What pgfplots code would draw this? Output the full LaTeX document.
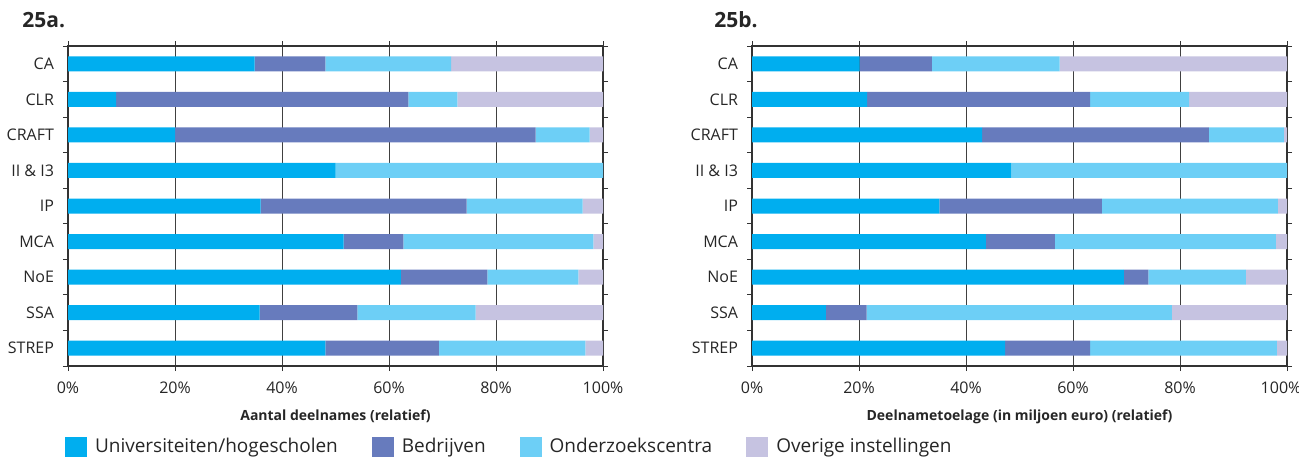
\documentclass[border=0pt]{standalone}
\usepackage{fontspec}
\setmainfont{Open Sans}
\usepackage{pgfplots}
\pgfplotsset{compat=1.18}
\usepackage{pgfplotstable}

\definecolor{cU}{HTML}{00AEEF}
\definecolor{cB}{HTML}{677BBD}
\definecolor{cO}{HTML}{6DCFF6}
\definecolor{cV}{HTML}{C6C3E1}

\pgfplotstableread{
y U B O V
1 34.9 13.2 23.5 28.4
2 9.0 54.6 9.2 27.2
3 20.0 67.4 10.1 2.5
4 50.0 0 50.0 0
5 36.0 38.5 21.7 3.8
6 51.5 11.2 35.5 1.8
7 62.2 16.2 17.0 4.6
8 35.8 18.3 22.1 23.8
9 48.1 21.2 27.4 3.3
}\dataA

\pgfplotstableread{
y U B O V
1 20.1 13.5 23.9 42.5
2 21.5 41.7 18.5 18.3
3 43.0 42.4 14.0 0.6
4 48.5 0 51.5 0
5 35.0 30.4 32.9 1.7
6 43.7 12.9 41.3 2.1
7 69.5 4.6 18.2 7.7
8 13.8 7.6 57.1 21.5
9 47.3 15.9 34.9 1.9
}\dataB

\pgfplotsset{
  mybar/.style={
    scale only axis, width=267.5pt, height=160pt,
    xbar stacked, bar width=7.5pt,
    xmin=0, xmax=100, ymin=0.5, ymax=9.5, y dir=reverse,
    ytick={1,...,9},
    yticklabels={CA,CLR,CRAFT,II \& I3,IP,MCA,NoE,SSA,STREP},
    minor ytick={0.5,1.5,...,9.5},
    xtick={0,20,...,100},
    xmajorgrids,
    major grid style={black!75, line width=0.5pt},
    axis line style={black!80, line width=0.7pt},
    tick align=outside,
    major tick length=2.5pt, minor tick length=2.5pt,
    major y tick style={draw=none},
    tick style={black!80, line width=0.5pt},
    ticklabel style={font=\fontsize{8}{9}\selectfont, text=black!85},
    xticklabel style={yshift=-2pt},
    yticklabel style={xshift=-1pt},
    xlabel style={font=\fontsize{7}{8}\selectfont\bfseries, text=black!85, yshift=-1pt},
    clip=false,
  },
}

\begin{document}
\begin{tikzpicture}
\useasboundingbox (0,0) rectangle (649.5pt,-229pt);

\node[anchor=west, font=\fontsize{10.5}{12}\selectfont\bfseries, text=black!85, inner sep=0pt] at (11pt,-10pt) {25a.};
\node[anchor=west, font=\fontsize{10.5}{12}\selectfont\bfseries, text=black!85, inner sep=0pt] at (357pt,-10pt) {25b.};

\begin{axis}[mybar, at={(34pt,-183pt)}, anchor=south west,
  xticklabels={0\%,20\%,40\%,60\%,80\%,100\%},
  xlabel={Aantal deelnames (relatief)},
  legend columns=4,
  legend style={at={(-0.0056,-0.253)}, anchor=west, draw=none, fill=none,
    inner sep=0pt, outer sep=0pt,
    font=\fontsize{9.5}{11}\selectfont, text=black!85,
    cells={anchor=west},
    nodes={inner xsep=0pt, inner ysep=1pt},
    /tikz/every odd column/.append style={column sep=4pt},
    /tikz/every even column/.append style={column sep=17pt}},
  legend image code/.code={\fill[#1] (0pt,-5pt) rectangle (11pt,5pt);},
]
\addplot[fill=cU, draw=none] table[x=U, y=y] {\dataA};
\addplot[fill=cB, draw=none] table[x=B, y=y] {\dataA};
\addplot[fill=cO, draw=none] table[x=O, y=y] {\dataA};
\addplot[fill=cV, draw=none] table[x=V, y=y] {\dataA};
\legend{Universiteiten/hogescholen, Bedrijven, Onderzoekscentra, Overige instellingen}
\end{axis}

\begin{axis}[mybar, at={(376pt,-183pt)}, anchor=south west,
  xticklabels={0\%,20\%,40\%,60\%,80\%,\hspace*{-6pt}100\%},
  xlabel={Deelnametoelage (in miljoen euro) (relatief)},
]
\addplot[fill=cU, draw=none] table[x=U, y=y] {\dataB};
\addplot[fill=cB, draw=none] table[x=B, y=y] {\dataB};
\addplot[fill=cO, draw=none] table[x=O, y=y] {\dataB};
\addplot[fill=cV, draw=none] table[x=V, y=y] {\dataB};
\end{axis}
\end{tikzpicture}
\end{document}
